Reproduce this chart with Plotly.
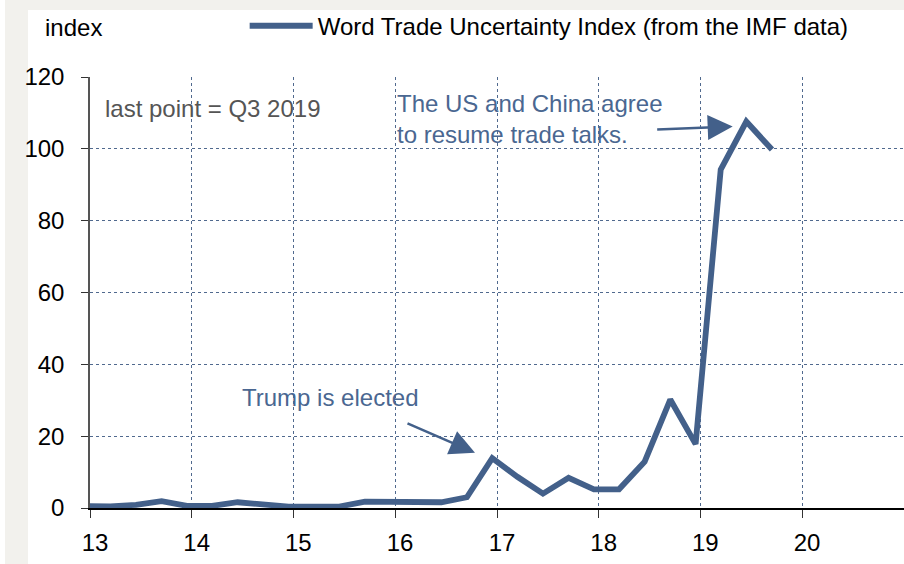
import plotly.graph_objects as go

# ---- data ----
quarters = ["2012Q4",
            "2013Q1", "2013Q2", "2013Q3", "2013Q4",
            "2014Q1", "2014Q2", "2014Q3", "2014Q4",
            "2015Q1", "2015Q2", "2015Q3", "2015Q4",
            "2016Q1", "2016Q2", "2016Q3", "2016Q4",
            "2017Q1", "2017Q2", "2017Q3", "2017Q4",
            "2018Q1", "2018Q2", "2018Q3", "2018Q4",
            "2019Q1", "2019Q2", "2019Q3"]
wtu_index = [0.5,
             0.45, 0.9, 1.9, 0.6,
             0.6, 1.6, 0.9, 0.4,
             0.4, 0.4, 1.8, 1.6,
             1.4, 1.6, 3.0, 13.9,
             8.7, 4.0, 8.4, 5.2,
             5.2, 12.9, 30.2, 17.8,
             94.2, 107.6, 99.8]
tick_labels = ["13", "14", "15", "16", "17", "18", "19", "20"]
series_name = "Word Trade Uncertainty Index (from the IMF data)"

# quarter label -> date in the middle of the quarter's last month
def q_to_date(q):
    y, n = q.split("Q")
    return f"{y}-{int(n) * 3:02d}-15"

x_dates = [q_to_date(q) for q in quarters]
tick_vals = [f"20{t}-01-01" for t in tick_labels]

LINE = "#43608a"
TXT = "#4a6791"
GRID = "#50698e"
FONT = "Liberation Sans, Arial, sans-serif"

fig = go.Figure()
fig.add_trace(go.Scatter(
    x=x_dates, y=wtu_index, mode="lines", name=series_name,
    line=dict(color=LINE, width=5.8),
    showlegend=True,
))

W, H = 814.0, 431.0
def px(xp):
    return (xp - 90) / W
def py(yp):
    return (508 - yp) / H

fig.update_layout(
    width=904, height=564, autosize=False,
    margin=dict(l=90, r=0, t=77, b=56),
    paper_bgcolor="#f2f1ed", plot_bgcolor="white",
    font=dict(family=FONT, size=24, color="black"),
    showlegend=True,
    legend=dict(orientation="h", x=0.19, y=1.118, xanchor="left", yanchor="middle",
                bgcolor="rgba(0,0,0,0)", font=dict(size=24, color="black"),
                itemwidth=63),
    xaxis=dict(type="date", range=["2013-01-01", "2021-01-01"],
               tickvals=tick_vals, ticktext=tick_labels,
               showline=True, linecolor="black", linewidth=1.5,
               ticks="outside", ticklen=8, tickcolor="#333", tickwidth=1.2,
               showgrid=True, gridcolor=GRID, gridwidth=1, griddash="dot",
               zeroline=False, ticklabelshift=5, ticklabelstandoff=4,
               tickfont=dict(size=24, color="black")),
    yaxis=dict(range=[0, 120], dtick=20, tick0=0,
               showline=True, linecolor="#555", linewidth=1.5,
               ticks="outside", ticklen=7, tickcolor="#333", tickwidth=1.2,
               showgrid=True, gridcolor=GRID, gridwidth=1, griddash="dot",
               zeroline=False, ticklabelstandoff=12,
               tickfont=dict(size=24, color="black")),
    shapes=[dict(type="rect", xref="paper", yref="paper", layer="below",
                 x0=px(28), x1=1.0, y0=py(564), y1=py(10),
                 fillcolor="white", line=dict(width=0)),
            dict(type="rect", xref="paper", yref="paper", layer="below",
                 x0=px(0), x1=px(5), y0=py(564), y1=py(0),
                 fillcolor="white", line=dict(width=0))],
)

# text annotations
fig.add_annotation(text="index", xref="paper", yref="paper", x=px(43), y=py(27),
                   xanchor="left", yanchor="middle", showarrow=False,
                   font=dict(size=24, color="black"))
fig.add_annotation(text="last point = Q3 2019", xref="paper", yref="paper",
                   x=px(103), y=py(108), xanchor="left", yanchor="middle",
                   showarrow=False, font=dict(size=24, color="#555555"))
fig.add_annotation(text="The US and China agree<br>to resume trade talks.",
                   xref="paper", yref="paper", x=px(395), y=py(119),
                   xanchor="left", yanchor="middle", align="left",
                   showarrow=False, font=dict(size=24, color=TXT))
fig.add_annotation(text="Trump is elected", xref="paper", yref="paper",
                   x=px(240), y=py(398), xanchor="left", yanchor="middle",
                   showarrow=False, font=dict(size=24, color=TXT))

# arrows
fig.add_annotation(text="", x="2019-04-27", y=106.2, xref="x", yref="y",
                   ax=-77, ay=3, showarrow=True, arrowhead=2, arrowsize=2.0,
                   arrowwidth=2.5, arrowcolor=LINE, standoff=0)
fig.add_annotation(text="", x="2016-10-14", y=15.4, xref="x", yref="y",
                   ax=-69, ay=-30, showarrow=True, arrowhead=2, arrowsize=2.0,
                   arrowwidth=2.5, arrowcolor=LINE, standoff=0)

fig.write_html("out.html", config={"displayModeBar": False},
               post_script="document.body.style.margin='0';document.body.style.padding='0';")
